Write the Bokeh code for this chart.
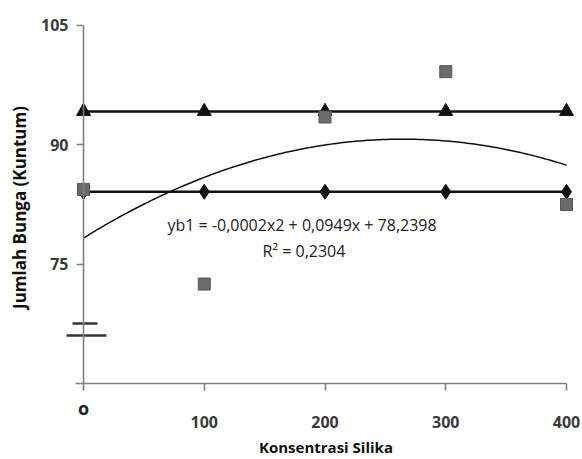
import numpy as np
from bokeh.plotting import figure
from bokeh.models import Range1d, LinearAxis, FixedTicker
from bokeh.core.properties import value
from bokeh.embed import file_html
from bokeh.resources import INLINE

# ---- data ----
x_vals = [0, 100, 200, 300, 400]
y_square = [84.4, 72.5, 93.5, 99.2, 82.5]
y_triangle = [94.2, 94.2, 94.2, 94.2, 94.2]
y_diamond = [84.1, 84.1, 84.1, 84.1, 84.1]
x_ticks = [0, 100, 200, 300, 400]
x_tick_labels = {0: "", 100: "100", 200: "200", 300: "300", 400: "400"}
zero_label = "o"
y_ticks = [75, 90, 105]
eq_text = "yb1 = -0,0002x2 + 0,0949x + 78,2398"
r2_text = "R\u00b2 = 0,2304"
x_label = "Konsentrasi Silika"
y_label = "Jumlah Bunga  (Kuntum)"

# polynomial trend line (order 2) fitted to the square series
coef = np.polyfit(x_vals, y_square, 2)
trend_x = np.linspace(min(x_vals), max(x_vals), 200)
trend_y = np.polyval(coef, trend_x)

FONT = "Open Sans"

p = figure(width=582, height=457, output_backend="svg", toolbar_location=None,
           x_range=Range1d(-68.74, 413.25), y_range=Range1d(50.70, 108.14),
           x_axis_type=None, y_axis_type=None,
           min_border_left=0, min_border_right=0, min_border_top=0,
           min_border_bottom=0)
p.outline_line_color = None
p.background_fill_color = "white"

yaxis = LinearAxis(fixed_location=0, ticker=FixedTicker(ticks=y_ticks),
                   bounds=(60, 105))
xaxis = LinearAxis(fixed_location=60, ticker=FixedTicker(ticks=x_ticks),
                   major_label_overrides=x_tick_labels, bounds=(-7, 400))
for ax in (xaxis, yaxis):
    ax.axis_line_color = "#808080"
    ax.axis_line_width = 1.6
    ax.major_tick_line_color = "#808080"
    ax.major_tick_line_width = 1.6
    ax.major_tick_out = 7
    ax.major_tick_in = 0
    ax.minor_tick_line_color = None
    ax.major_label_text_font = FONT
    ax.major_label_text_font_size = "16px"
    ax.major_label_text_font_style = "bold"
    ax.major_label_text_color = "#3a3a3a"
yaxis.major_label_standoff = 8
xaxis.major_label_standoff = 25
p.add_layout(yaxis, "left")
p.add_layout(xaxis, "below")

# axis titles and the zero tick label, drawn inside the frame
p.text(x=[-52.6], y=[82.4], text=[y_label], angle=np.pi / 2,
       text_align="center", text_baseline="middle", text_font=value(FONT),
       text_font_size="17px", text_font_style="bold", text_color="#111111")
p.text(x=[200.8], y=[52.08], text=[x_label], text_align="center",
       text_baseline="middle", text_font=value(FONT),
       text_font_size="15px", text_font_style="bold", text_color="#111111")
p.text(x=[0], y=[56.86], text=[zero_label], text_align="center",
       text_baseline="middle", text_font=value(FONT),
       text_font_size="18px", text_font_style="bold", text_color="#222222")

# axis break marks
p.segment(x0=[-9.1, -14.1], y0=[67.54, 66.04], x1=[11.6, 19.0], y1=[67.54, 66.04],
          line_color="#333333", line_width=2.5)

# series
p.line(x_vals, y_triangle, line_color="#111111", line_width=2.5)
p.scatter(x_vals, y_triangle, marker="triangle", size=14,
          fill_color="#111111", line_color="#111111")
p.line(x_vals, y_diamond, line_color="#111111", line_width=2.5)
p.scatter(x_vals, y_diamond, marker="diamond", size=15,
          fill_color="#111111", line_color="#111111")
p.line(trend_x, trend_y, line_color="#111111", line_width=1.5)
p.scatter(x_vals, y_square, marker="square", size=12,
          fill_color="#6b6b6b", line_color="#555555")

# trend equation text
p.text(x=[181], y=[79.86], text=[eq_text], text_align="center",
       text_baseline="middle", text_font=value(FONT),
       text_font_size="16px", text_color="#222222")
p.text(x=[182.6], y=[76.6], text=[r2_text], text_align="center",
       text_baseline="middle", text_font=value(FONT),
       text_font_size="16px", text_color="#222222")

open("out.html", "w").write(file_html(p, INLINE))
